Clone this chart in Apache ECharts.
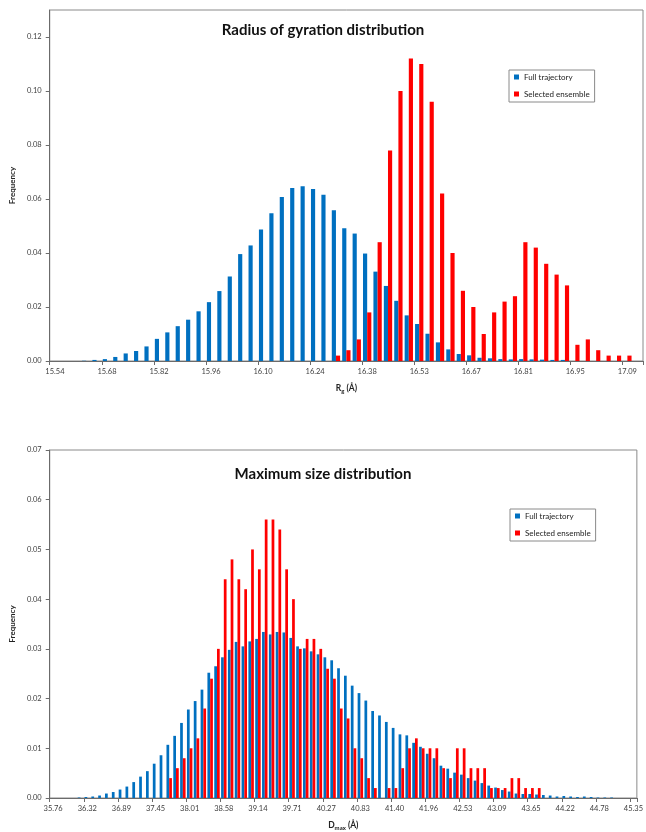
<!DOCTYPE html>
<html>
<head>
<meta charset="utf-8">
<title>Rg and Dmax distributions</title>
<script src="https://cdn.jsdelivr.net/npm/echarts@6/dist/echarts.min.js"></script>
<style>
  html, body { margin: 0; padding: 0; background: #ffffff; }
  #chart { width: 646px; height: 832px; }
</style>
</head>
<body>
<div id="chart"></div>
<script>
// Radius of gyration histogram: one label every 5 bins
const rgTicks = ['15.54', '15.68', '15.82', '15.96', '16.10', '16.24', '16.38', '16.53', '16.67', '16.81', '16.95', '17.09'];
const rgFull = [
  0, 0, 0, 0.0001, 0.0004, 0.0007, 0.0015, 0.0028, 0.0037, 0.0054,
  0.0082, 0.0106, 0.0129, 0.0153, 0.0184, 0.0218, 0.0259, 0.0313, 0.0396, 0.0428,
  0.0487, 0.0547, 0.0607, 0.0641, 0.0647, 0.0637, 0.0616, 0.0558, 0.0492, 0.0472,
  0.0398, 0.0331, 0.0278, 0.0223, 0.0169, 0.0137, 0.0101, 0.0069, 0.0043, 0.0026,
  0.0021, 0.0012, 0.0010, 0.0007, 0.0006, 0.0007, 0.0006, 0.0005, 0.0004, 0.0004,
  0, 0, 0, 0, 0, 0, 0
];
const rgSelected = [
  0, 0, 0, 0, 0, 0, 0, 0, 0, 0,
  0, 0, 0, 0, 0, 0, 0, 0, 0, 0,
  0, 0, 0, 0, 0, 0, 0, 0.002, 0.004, 0.008,
  0.018, 0.044, 0.078, 0.100, 0.112, 0.110, 0.096, 0.062, 0.040, 0.026,
  0.020, 0.010, 0.018, 0.022, 0.024, 0.044, 0.042, 0.036, 0.032, 0.028,
  0.006, 0.008, 0.004, 0.002, 0.002, 0.002, 0
];

// Maximum dimension histogram: one label every 5 bins
const dmaxTicks = ['35.76', '36.32', '36.89', '37.45', '38.01', '38.58', '39.14', '39.71', '40.27', '40.83', '41.40', '41.96', '42.53', '43.09', '43.65', '44.22', '44.78', '45.35'];
const dmaxFull = [
  0, 0, 0, 0, 0.0001, 0.0002, 0.0003, 0.0005, 0.0009, 0.0012,
  0.0017, 0.0023, 0.0032, 0.0043, 0.0054, 0.0069, 0.0086, 0.0107, 0.0125, 0.0151,
  0.0178, 0.0195, 0.0218, 0.0252, 0.0265, 0.0283, 0.0298, 0.0314, 0.0305, 0.0315,
  0.0320, 0.0334, 0.0329, 0.0334, 0.0333, 0.0322, 0.0305, 0.0301, 0.0295, 0.0289,
  0.0283, 0.0277, 0.0261, 0.0246, 0.0226, 0.0211, 0.0196, 0.0175, 0.0166, 0.0153,
  0.0141, 0.0128, 0.0126, 0.0111, 0.0103, 0.0089, 0.0080, 0.0065, 0.0059, 0.0051,
  0.0047, 0.0040, 0.0035, 0.0030, 0.0025, 0.0021, 0.0016, 0.0013, 0.0009, 0.0008,
  0.0008, 0.0007, 0.0006, 0.0005, 0.0003, 0.0004, 0.0003, 0.0002, 0.0003, 0.0002,
  0.0001, 0.0001, 0.0001, 0, 0, 0
];
const dmaxSelected = [
  0, 0, 0, 0, 0, 0, 0, 0, 0, 0,
  0, 0, 0, 0, 0, 0, 0, 0.004, 0.006, 0.008,
  0.010, 0.012, 0.018, 0.024, 0.030, 0.044, 0.048, 0.044, 0.042, 0.050,
  0.046, 0.056, 0.056, 0.054, 0.046, 0.040, 0.030, 0.032, 0.032, 0.030,
  0.026, 0.024, 0.018, 0.016, 0.010, 0.008, 0.004, 0.002, 0, 0.002,
  0.002, 0.006, 0.010, 0.012, 0.010, 0.010, 0.010, 0.006, 0.004, 0.010,
  0.010, 0.006, 0.006, 0.006, 0.002, 0.002, 0.002, 0.004, 0.004, 0.002,
  0.002, 0.002, 0, 0, 0, 0, 0, 0, 0, 0,
  0, 0, 0, 0, 0, 0
];

const rgYTicks = [0, 0.02, 0.04, 0.06, 0.08, 0.10, 0.12];
const dmaxYTicks = [0, 0.01, 0.02, 0.03, 0.04, 0.05, 0.06, 0.07];

const FONT = 'Lato';
const BLUE = '#0070C0';
const RED = '#FF0000';
const AXIS = '#6b6b6b';
const FRAME = '#8a8a8a';
const LABEL = '#404040';
const LABEL_EVERY = 5;

function binAxis(values, ticks, gridIndex, nameRich) {
  return {
    type: 'category',
    gridIndex: gridIndex,
    data: values.map((_, i) => String(i)),
    boundaryGap: true,
    name: nameRich,
    nameLocation: 'middle',
    nameGap: 21,
    nameTextStyle: {
      rich: {
        a: { fontFamily: FONT, fontSize: 8.5, fontWeight: 'bold', color: '#222', lineHeight: 12 },
        s: { fontFamily: FONT, fontSize: 6, fontWeight: 'bold', color: '#222', lineHeight: 7, verticalAlign: 'bottom' }
      }
    },
    axisLine: { show: true, lineStyle: { color: AXIS, width: 1 } },
    axisTick: { show: true, interval: LABEL_EVERY - 1, alignWithLabel: false, length: 4, lineStyle: { color: AXIS } },
    axisLabel: {
      interval: LABEL_EVERY - 1,
      margin: 7,
      fontFamily: FONT,
      fontSize: 7.5,
      color: LABEL,
      formatter: (v, i) => (i % LABEL_EVERY === 0 && ticks[i / LABEL_EVERY] !== undefined) ? ticks[i / LABEL_EVERY] : ''
    },
    splitLine: { show: false }
  };
}

function freqAxis(gridIndex, max, interval, ticks) {
  return {
    type: 'value',
    gridIndex: gridIndex,
    min: 0,
    max: max,
    interval: interval,
    name: 'Frequency',
    nameLocation: 'middle',
    nameRotate: 90,
    nameGap: 24,
    nameTextStyle: { fontFamily: FONT, fontSize: 8, fontWeight: 'bold', color: '#222' },
    axisLine: { show: true, lineStyle: { color: AXIS, width: 1 } },
    axisTick: { show: true, length: 4, lineStyle: { color: AXIS }, customValues: ticks },
    axisLabel: {
      margin: 8,
      fontFamily: FONT,
      fontSize: 7.5,
      color: LABEL,
      customValues: ticks,
      formatter: v => v.toFixed(2)
    },
    splitLine: { show: false }
  };
}

function legendBox(left, top) {
  return {
    orient: 'vertical',
    left: left,
    top: top,
    icon: 'rect',
    itemWidth: 5,
    itemHeight: 5,
    itemGap: 7,
    padding: [2, 5, 3, 5],
    backgroundColor: '#ffffff',
    borderColor: FRAME,
    borderWidth: 1,
    textStyle: { fontFamily: FONT, fontSize: 8, color: '#222', lineHeight: 10 },
    data: ['Full trajectory', 'Selected ensemble']
  };
}

function bars(name, data, color, axisIndex) {
  return {
    type: 'bar',
    name: name,
    xAxisIndex: axisIndex,
    yAxisIndex: axisIndex,
    data: data,
    barGap: '0%',
    barCategoryGap: '20%',
    itemStyle: { color: color },
    silent: true
  };
}

const chart = echarts.init(document.getElementById('chart'), null, { renderer: 'canvas' });
chart.setOption({
  backgroundColor: '#ffffff',
  animation: false,
  title: [
    {
      text: 'Radius of gyration distribution',
      left: 'center',
      top: 23,
      padding: [0, 0, 0, 8],
      textStyle: { fontFamily: FONT, fontSize: 15, fontWeight: 'bold', color: '#111' }
    },
    {
      text: 'Maximum size distribution',
      left: 'center',
      top: 467,
      padding: [0, 0, 0, 8],
      textStyle: { fontFamily: FONT, fontSize: 15, fontWeight: 'bold', color: '#111' }
    }
  ],
  legend: [legendBox(509, 70), legendBox(510, 509)],
  grid: [
    { left: 47, right: 3, top: 10, bottom: 471, show: true, borderColor: FRAME, borderWidth: 1, backgroundColor: 'transparent' },
    { left: 48, right: 4, top: 450, bottom: 31, show: true, borderColor: FRAME, borderWidth: 1, backgroundColor: 'transparent' }
  ],
  xAxis: [
    binAxis(rgFull, rgTicks, 0, '{a|R}{s|g}{a| (Å)}'),
    binAxis(dmaxFull, dmaxTicks, 1, '{a|D}{s|max}{a| (Å)}')
  ],
  yAxis: [
    freqAxis(0, 0.13, 0.02, rgYTicks),
    freqAxis(1, 0.07, 0.01, dmaxYTicks)
  ],
  series: [
    bars('Full trajectory', rgFull, BLUE, 0),
    bars('Selected ensemble', rgSelected, RED, 0),
    bars('Full trajectory', dmaxFull, BLUE, 1),
    bars('Selected ensemble', dmaxSelected, RED, 1)
  ]
});
</script>
</body>
</html>
